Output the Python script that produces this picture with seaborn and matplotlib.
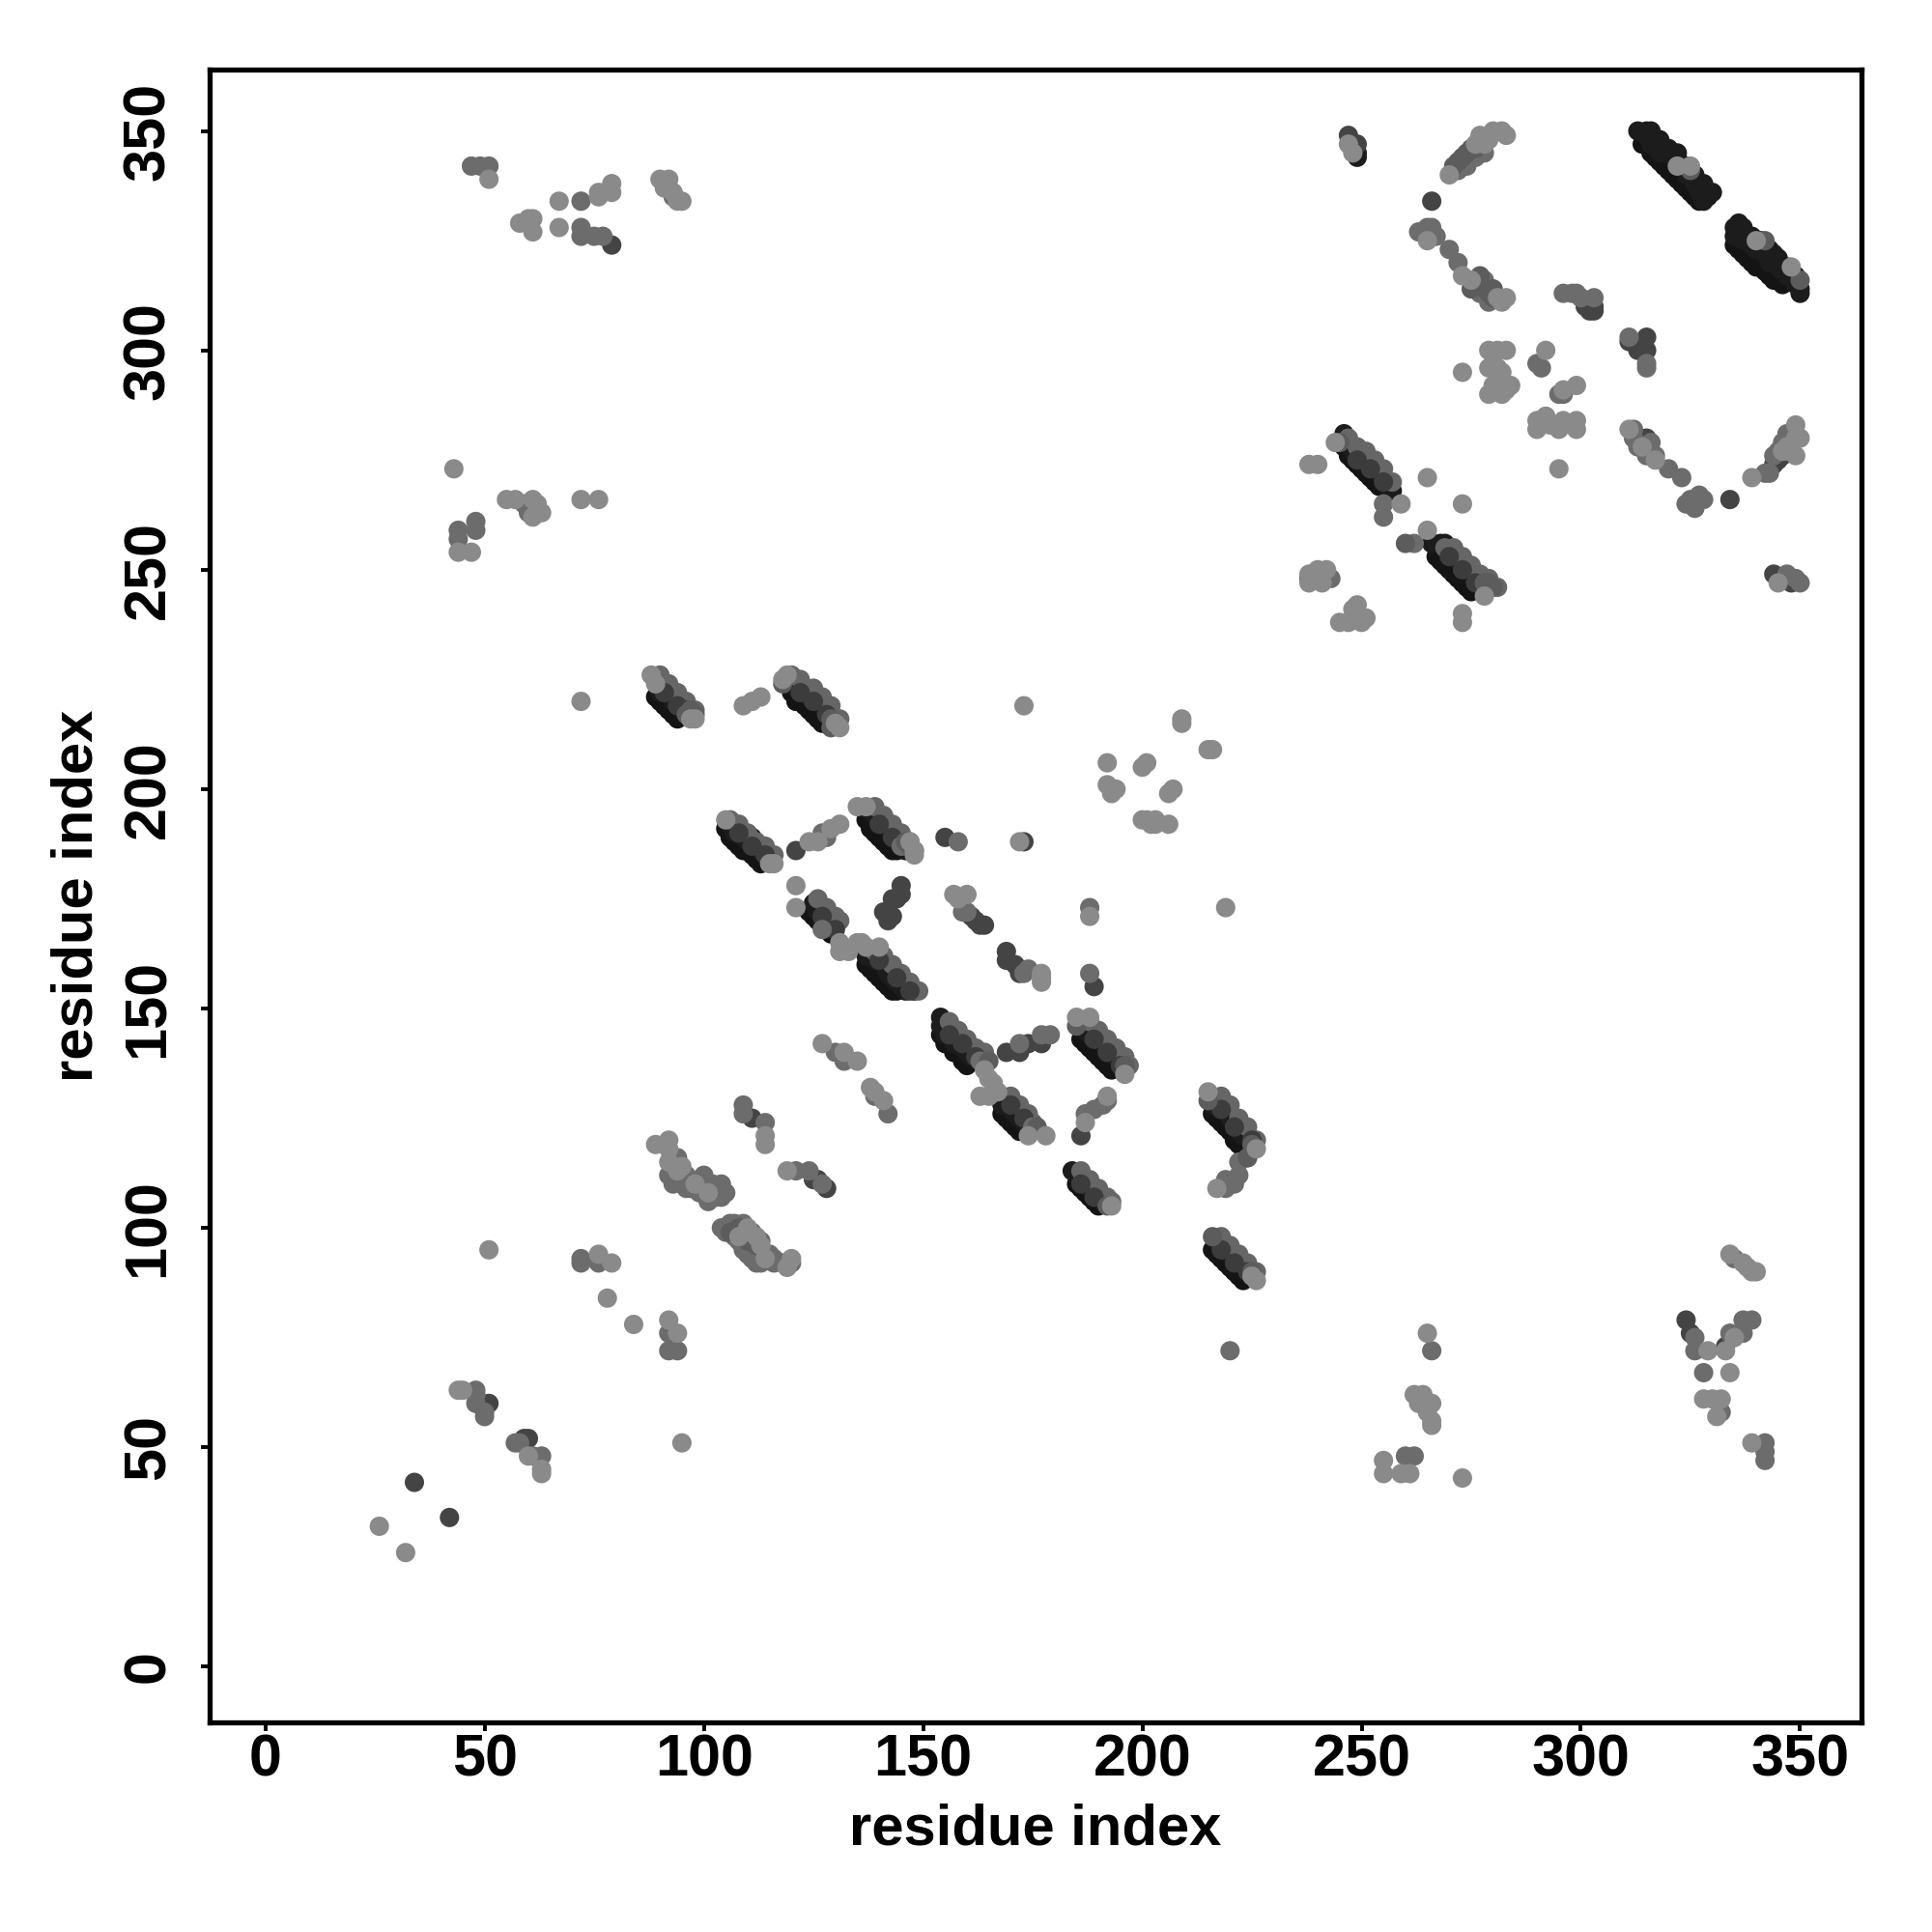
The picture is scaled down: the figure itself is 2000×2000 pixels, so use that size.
import matplotlib
matplotlib.use("Agg")
import matplotlib.pyplot as plt
import pandas as pd
import seaborn as sns

# Contacts, one list per grey level, (residue x, residue y)
light = [(26,32),(32,26),(51,95),(95,51),(44,63),(45,63),(60,48),(63,45),(63,44),(76,94),(79,92),(78,84),(84,78),(92,79),(94,76),
 (89,119),(92,120),(92,118),(92,115),(95,114),(98,110),(101,108),(94,113),(108,98),(110,100),(112,98),(113,96),(114,93),(119,91),(120,93),
 (114,121),(114,119),(119,113),(127,142),(132,140),(135,138),(138,132),(141,129),(139,131),
 (105,193),(116,183),(115,183),(126,188),(124,188),(129,191),(131,192),(135,196),(137,196),(147,188),(148,186),(148,185),(172,188),
 (121,178),(121,173),(131,165),(131,163),(133,163),(135,165),(137,164),(136,165),(140,164),(157,176),(158,175),(160,176),(177,158),(177,156),(177,157),
 (188,171),(219,173),(173,219),(165,134),(164,136),(166,133),(165,130),(163,130),(167,131),(185,148),(188,148),(196,135),(174,121),(178,121),(192,130),(187,124),
 (193,105),(215,131),(226,118),(217,109),(226,88),(225,89),(88,226),(89,224),(97,216),(98,216),(109,219),(111,220),(113,221),(118,225),(119,226),(130,215),(131,214),
 (192,206),(192,201),(193,199),(194,200),(200,205),(201,206),(206,199),(207,200),(201,193),(202,192),(203,193),(206,192),(209,216),(209,215),(215,209),(216,209),(203,192),(200,193),
 (51,339),(58,329),(60,330),(61,330),(61,327),(67,334),(67,328),(76,335),(76,336),(79,338),(79,336),(90,339),(91,337),(92,339),(93,336),(94,334),(95,334),(43,273),(44,254),(47,254),
 (55,266),(57,266),(61,262),(62,265),(63,263),(61,266),(72,266),(76,266),(72,220),
 (247,347),(248,345),(270,340),(276,347),(277,349),(279,348),(280,350),(282,350),(283,349),(278,347),(265,325),(273,317),(275,316),(283,312),(282,311),(281,312),
 (273,295),(279,300),(281,300),(279,296),(281,296),(279,290),(282,295),(283,300),(283,291),(284,292),(282,290),(280,292),(292,300),(296,291),(299,292),(290,284),(290,282),(292,285),(293,283),(295,282),(296,284),(299,284),(299,282),(295,273),
 (311,282),(314,278),(317,275),(339,271),(349,280),(349,283),(350,280),(349,276),(346,277),(347,278),(238,274),(240,274),(244,279),(259,265),(265,271),(273,265),(265,259),(278,244),(273,240),(273,238),
 (238,247),(238,249),(240,250),(241,247),(242,250),(245,238),(247,238),(248,241),(248,239),(249,242),(250,238),(251,239),(345,247),
 (265,76),(263,60),(264,62),(265,60),(265,58),(266,56),(266,55),(266,60),(262,62),(255,47),(255,44),(259,44),(261,44),(273,43),(329,72),(328,61),(330,61),(331,57),(332,61),(333,72),(334,67),(335,75),(334,94),(337,92),(338,91),(339,90),(340,90),(339,51),
 (322,342),(325,342),(340,325),(348,319)]
mid = [(48,63),(48,60),(50,57),(50,58),(48,62),(57,51),(58,51),(61,48),(63,48),(72,93),(72,92),(76,92),(92,76),(92,72),(94,72),(92,112),(93,110),(97,109),(100,112),(103,107),(104,109),(105,100),(107,101),(109,101),(109,95),(111,94),(112,93),(116,93),
 (94,111),(95,110),(96,109),(97,111),(99,108),(100,108),(101,106),(102,107),(103,108),(104,107),(105,108),(93,112),(94,116),(96,112),(99,111),(102,110),(104,110),
 (104,100),(105,99),(106,101),(107,98),(108,97),(109,96),(110,96),(110,94),(111,93),(112,92),(113,92),(109,100),(111,99),(113,97),(115,94),(116,92),(118,92),(120,92),
 (109,128),(109,126),(114,124),(121,113),(124,113),(127,110),(130,140),(132,138),(139,130),(142,126),(128,189),(127,190),(145,187),(158,188),(127,168),(159,172),(160,172),(174,159),(173,158),(188,173),(188,158),(163,138),(172,142),(177,144),(179,144),(189,127),(191,128),(192,129),(187,126),(175,123),(219,111),(221,110),(222,112),(219,109),(220,72),(224,116),(222,115),
 (47,342),(49,342),(51,342),(72,334),(72,326),(72,328),(75,326),(77,326),(93,335),(44,259),(44,257),(48,259),(48,261),(59,265),(60,263),
 (263,327),(265,328),(266,328),(267,326),(270,323),(272,320),(296,313),(298,313),(299,313),(300,312),(303,312),(311,303),(315,297),(315,296),(290,297),(291,296),(295,290),(296,290),(312,280),(315,276),(317,276),(320,273),(323,271),(324,265),(325,266),(326,264),(327,267),(328,266),(342,272),(343,272),(348,277),(347,277),(255,265),(255,262),(262,256),(243,248),
 (347,249),(349,248),(350,247),(266,72),(260,48),(262,48),(326,75),(326,72),(328,67),(332,58),(334,76),(337,76),(337,79),(339,79),(335,93),(342,51),(342,49),(342,47),
 (276,344),(277,346),(278,345),(274,342),(272,341),(276,314),(278,316),(277,313),(279,311),(313,278),(312,282),(316,279),(344,276),(345,277),(346,279),(348,280),(347,281)]
dark = [(34,42),(42,34),(51,60),(59,52),(60,52),(125,111),(128,109),(126,111),(111,125),(121,186),(155,189),(173,188),(145,176),(145,178),(144,175),(143,175),(141,172),(142,170),(143,171),
 (161,171),(162,170),(163,169),(164,169),(169,163),(169,161),(171,160),(172,158),(189,155),(169,140),(172,140),(174,142),(177,142),(186,121),
 (79,324),(247,349),(249,347),(266,334),(301,310),(303,310),(303,309),(302,309),(311,302),(313,300),(315,303),(315,300),(315,280),(334,266),(344,274),(345,275),(346,276),(344,249),(348,247),(324,79),(325,76),(333,73)]
band_dark = [(106,192),(107,190),(108,191),(109,189),(110,188),(111,189),(112,187),(113,186),(114,186),
 (138,195),(139,194),(140,193),(141,192),(142,191),(143,190),(144,188),(146,186),
 (125,174),(126,172),(127,173),(128,171),(129,170),(130,169),(127,170),(128,169),(129,168),
 (137,162),(139,161),(140,163),(141,160),(142,158),(143,157),(144,156),(145,155),(146,154),(148,154),(147,155),
 (154,148),(154,146),(155,144),(156,145),(157,142),(158,143),(159,141),(160,140),(161,139),(162,140),
 (187,145),(188,144),(189,145),(190,143),(191,142),(192,141),(193,140),(194,139),(195,138),
 (168,130),(168,128),(169,129),(170,127),(171,126),(172,125),(173,126),(173,124),
 (184,113),(185,112),(186,111),(187,110),(188,109),(189,108),(190,107),(191,106),
 (216,128),(217,128),(218,129),(219,127),(220,125),(221,124),(222,122),(223,121),(224,121),
 (217,97),(218,96),(219,95),(220,94),(221,93),(222,92),(223,92),(224,91),
 (90,222),(91,224),(92,222),(93,220),(94,220),(95,219),(120,225),(121,223),(122,224),(123,222),(124,221),(125,221),(126,220),(127,219),(128,218),
 (249,344),(249,345),(246,281),(247,279),(248,277),(249,276),(250,276),(251,275),(252,274),(253,273),(254,272),(255,271),(256,269),(257,268),(256,270),
 (266,256),(268,256),(269,256),(270,255),(271,254),(272,252),(273,251),(274,250),(275,249),(276,248),
 (313,350),(315,349),(316,350),(316,347),(318,345),(320,346),(321,344),(322,345),(323,342),(324,340),(326,338),(327,336),(328,336),(329,335),(328,334),(319,346),
 (335,328),(335,326),(336,329),(337,325),(338,326),(339,324),(340,323),(342,322),(343,320),(344,322),(345,319),(346,318),(347,317),(350,314),(350,313),(349,315),
 (315,350),(318,348),(320,345),(322,344),(324,342),(326,340),(328,338),(330,336),(337,328),(339,326),(341,325),(343,323),(345,321),(347,319),(349,317)]
band_low = [(105,191),(106,189),(107,188),(108,187),(109,186),(110,186),(111,185),(112,184),(113,183),
 (137,193),(138,191),(139,190),(140,189),(141,188),(142,187),(143,186),(144,186),
 (124,172),(125,171),(126,170),(127,169),(128,168),(129,167),
 (137,160),(138,159),(139,158),(140,157),(141,156),(142,155),(143,154),(144,154),
 (154,144),(155,142),(156,142),(157,140),(158,140),(159,138),(160,137),
 (186,143),(187,142),(188,141),(189,140),(190,139),(191,138),(192,137),(193,136),
 (168,126),(169,125),(170,124),(171,123),(172,122),
 (185,110),(186,109),(187,108),(188,107),(189,106),(190,105),
 (216,126),(217,125),(218,124),(219,123),(220,122),(221,120),(222,119),(223,118),
 (216,95),(217,94),(218,93),(219,92),(220,91),(221,90),(222,89),(223,88),
 (89,221),(90,220),(91,219),(92,218),(93,217),(94,216),
 (120,222),(121,220),(122,220),(123,219),(124,218),(125,217),(126,216),(127,215),
 (246,278),(247,276),(248,275),(249,274),(250,273),(251,272),(252,271),(253,270),(254,269),
 (267,253),(268,252),(269,251),(270,250),(271,249),(272,248),(273,247),(274,246),(275,245),
 (314,347),(316,345),(317,344),(318,343),(319,342),(320,341),(321,340),(322,339),(323,338),(324,337),(325,336),(326,335),(327,334),
 (335,324),(336,323),(337,322),(338,321),(339,320),(340,319),(341,319),(342,318),(343,317),(344,316),(345,316),(346,315)]
band_high = [(106,193),(108,192),(110,190),(112,188),(114,187),(116,185),
 (139,196),(141,194),(143,192),(145,190),(147,188),
 (126,175),(128,173),(130,171),(131,170),
 (139,163),(141,162),(143,160),(145,158),(147,156),(149,154),
 (156,147),(158,145),(160,143),(162,141),(164,140),
 (188,147),(190,145),(192,143),(194,141),(196,139),(197,137),
 (170,130),(172,128),(174,126),(175,124),
 (186,113),(188,111),(190,109),(192,107),(193,106),
 (218,130),(220,128),(222,125),(224,123),(226,120),
 (218,98),(220,96),(222,94),(224,92),(226,90),
 (90,226),(92,224),(94,222),(96,220),(98,218),
 (120,226),(122,225),(125,223),(127,221),(129,219),(131,216),
 (247,280),(249,278),(251,277),(253,275),(255,273),(257,270),
 (269,255),(271,255),(273,253),(275,251),(277,249),(279,248),(281,246)]
band_top = [(108,190),(111,187),(114,185),(140,192),(143,189),(146,187),(127,171),(130,168),(140,161),(144,157),(147,154),
 (156,144),(159,142),(162,139),(189,143),(192,140),(195,137),(170,128),(173,125),(186,110),(189,107),(218,127),(221,123),(225,120),
 (218,95),(221,92),(224,90),(91,222),(94,219),(96,218),(122,222),(125,220),(128,217),(249,275),(252,273),(255,270),(270,253),(273,250),(276,247)]
upper = [(106,99),(108,100),(110,97),(112,96),(185,146),(216,98),(225,90),(225,119),(224,116),(215,129),(196,137),(176,123),(192,105),(148,186),(146,188),(147,187),
 (97,218),(96,217),(98,217),(129,216),(129,214),(271,342),(272,343),(273,344),(274,345),(275,346),(276,346),(276,315),(277,317),(278,314),(279,313),(280,314),(280,312),(275,314),
 (278,247),(279,247),(280,246),(245,279),(260,256),(350,316),(325,341),(342,325),(238,248),(165,138),(118,224)]

group_names = ["band_low", "band_dark", "band_high", "band_top", "dark", "mid", "upper", "light"]
groups = [band_low, band_dark, band_high, band_top, dark, mid, upper, light]
group_greys = ["#141414", "#1c1c1c", "#666666", "#3c3c3c", "#444444", "#6c6c6c", "#5c5c5c", "#8a8a8a"]
tick_values = [0, 50, 100, 150, 200, 250, 300, 350]

frames = [pd.DataFrame(g, columns=["x", "y"]).assign(level=n) for g, n in zip(groups, group_names)]
contacts = pd.concat(frames, ignore_index=True)

sns.set_theme(style="white")
plt.rcParams["font.family"] = ["Liberation Sans", "DejaVu Sans"]
plt.rcParams["font.weight"] = "bold"

fig, ax = plt.subplots(figsize=(10, 10), dpi=200)
sns.scatterplot(data=contacts, x="x", y="y", hue="level", hue_order=group_names,
                palette=dict(zip(group_names, group_greys)), s=52, linewidth=0,
                legend=False, ax=ax)
ax.set_xlim(-12.7, 364)
ax.set_ylim(-12.7, 364)
ax.set_xticks(tick_values)
ax.set_yticks(tick_values)
ax.set_xlabel("residue index", fontsize=21.5, fontweight="bold", labelpad=5.5, color="black")
ax.set_ylabel("residue index", fontsize=21.5, fontweight="bold", labelpad=6.6, color="black")
ax.tick_params(axis="x", length=3.2, width=1.4, labelsize=22, color="black", labelcolor="black",
               bottom=True, pad=1)
ax.tick_params(axis="y", length=3.2, width=1.4, labelsize=22, color="black", labelcolor="black",
               left=True, pad=9)
for lab in ax.get_yticklabels():
    lab.set_rotation(90)
    lab.set_va("center")
for s in ax.spines.values():
    s.set_linewidth(1.9)
    s.set_color("black")
fig.subplots_adjust(left=217/2000, right=1927/2000, top=1-72/2000, bottom=1-1783/2000)
fig.savefig("out.png", dpi=200)
